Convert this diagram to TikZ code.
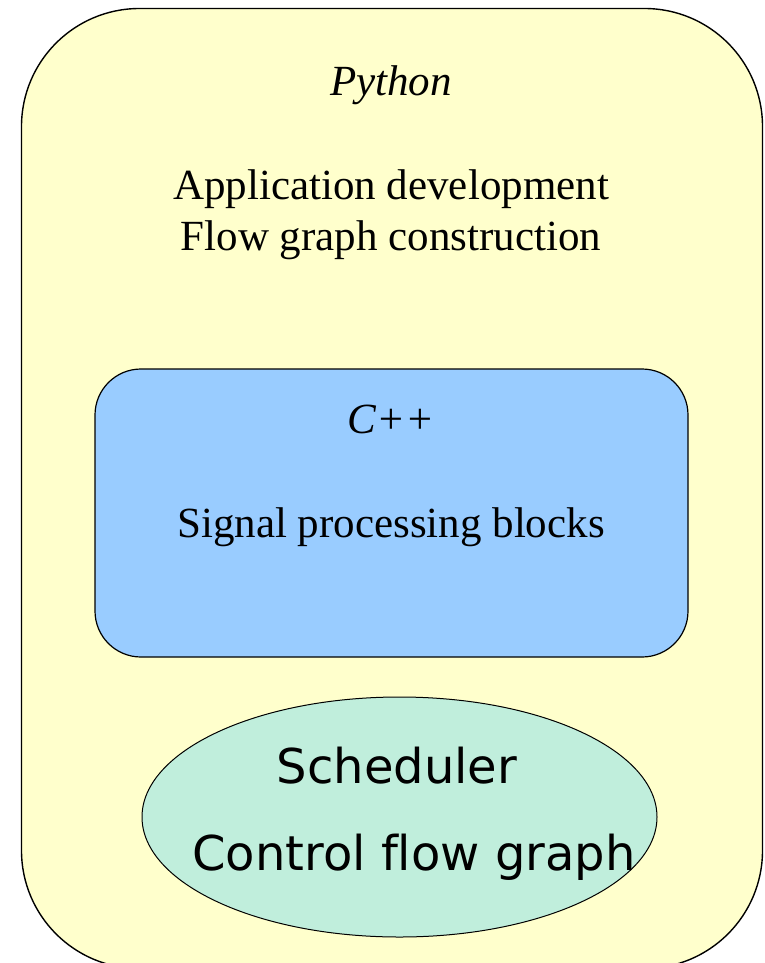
\documentclass[tikz,border=0pt]{standalone}
\usepackage{fontspec}
\setmainfont{Liberation Serif}
\newfontfamily\labelsans[Ligatures=NoCommon]{DejaVu Sans}
\usetikzlibrary{shapes.geometric}
\definecolor{pyfill}{HTML}{FFFFCC}
\definecolor{cppfill}{HTML}{99CCFF}
\definecolor{schedfill}{HTML}{C0EEDC}
\begin{document}
\begin{tikzpicture}[x={(1pt,0)}, y={(0,-1pt)},
  layer/.style={draw=black, line width=1.4pt, inner sep=0pt},
  serif/.style={anchor=base, inner sep=0pt, font=\fontsize{43}{50}\selectfont},
  sanslabel/.style={anchor=base, inner sep=0pt, font=\labelsans\fontsize{48}{56}\selectfont}]
  \useasboundingbox (0,0) rectangle (764,963);
  % Python layer
  \node[layer, fill=pyfill, rounded corners=118pt, minimum width=741pt, minimum height=960pt]
    (python) at (392,488.5) {};
  \node[serif] (pytitle) at (391,96) {\itshape Python};
  \node[serif] (appdev) at (391,199) {Application development};
  \node[serif] (fgc) at (391,250) {Flow graph construction};
  % C++ layer
  \node[layer, fill=cppfill, line width=1.2pt, rounded corners=46pt, minimum width=593pt, minimum height=288pt]
    (cpp) at (391.5,513) {};
  \node[serif] (cpptitle) at (391,433) {\itshape C++};
  \node[serif] (spb) at (391,537) {Signal processing blocks};
  % Scheduler
  \node[layer, fill=schedfill, line width=1pt, ellipse, minimum width=515pt, minimum height=240pt]
    (sched) at (399.5,817) {};
  \node[sanslabel] (schedtitle) at (397,783) {Scheduler};
  \node[sanslabel] (cfg) at (414,870) {Control flow graph};
\end{tikzpicture}
\end{document}
